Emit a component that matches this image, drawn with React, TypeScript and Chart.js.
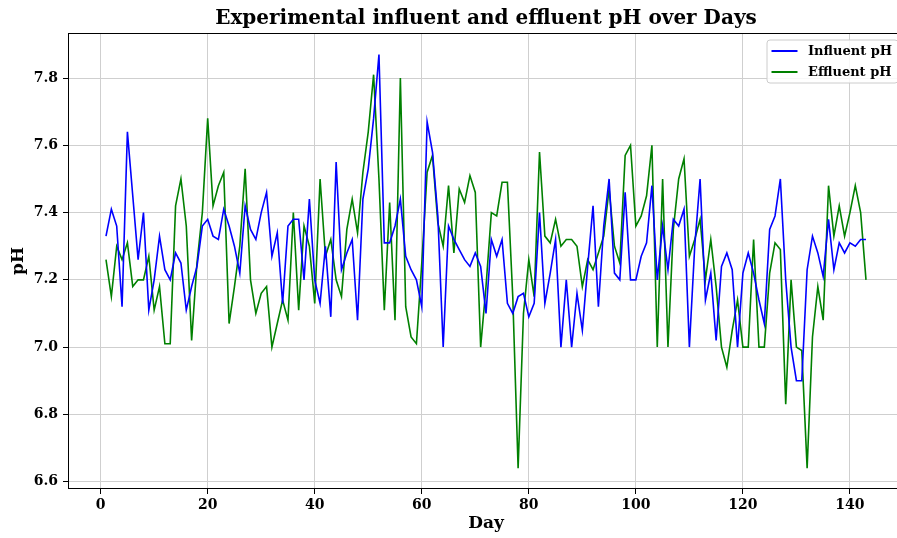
import React, { useEffect, useRef } from "react";
import { Chart, registerables } from "chart.js";

Chart.register(...registerables);

// Influent pH, days 1..143
const influentPH = [
  7.33, 7.41, 7.36, 7.12, 7.64, 7.45, 7.26, 7.4, 7.11, 7.2,
  7.33, 7.23, 7.2, 7.28, 7.25, 7.11, 7.18, 7.24, 7.36, 7.38,
  7.33, 7.32, 7.41, 7.36, 7.3, 7.22, 7.42, 7.35, 7.32, 7.4,
  7.46, 7.27, 7.34, 7.13, 7.36, 7.38, 7.38, 7.2, 7.44, 7.2,
  7.13, 7.3, 7.09, 7.55, 7.23, 7.28, 7.32, 7.08, 7.44, 7.53,
  7.68, 7.87, 7.31, 7.31, 7.36, 7.44, 7.27, 7.23, 7.2, 7.12,
  7.67, 7.58, 7.39, 7.0, 7.36, 7.32, 7.29, 7.26, 7.24, 7.28,
  7.24, 7.1, 7.32, 7.27, 7.32, 7.13, 7.1, 7.15, 7.16, 7.09,
  7.13, 7.4, 7.13, 7.22, 7.32, 7.0, 7.2, 7.0, 7.16, 7.05,
  7.24, 7.42, 7.12, 7.36, 7.5, 7.22, 7.2, 7.46, 7.2, 7.2,
  7.27, 7.31, 7.48, 7.2, 7.36, 7.23, 7.38, 7.36, 7.41, 7.0,
  7.3, 7.5, 7.14, 7.22, 7.02, 7.24, 7.28, 7.23, 7.0, 7.22,
  7.28, 7.22, 7.14, 7.07, 7.35, 7.39, 7.5, 7.2, 7.0, 6.9,
  6.9, 7.23, 7.33, 7.28, 7.21, 7.38, 7.23, 7.31, 7.28, 7.31,
  7.3, 7.32, 7.32,
];

// Effluent pH, days 1..143
const effluentPH = [
  7.26, 7.15, 7.3, 7.26, 7.31, 7.18, 7.2, 7.2, 7.27, 7.11,
  7.18, 7.01, 7.01, 7.42, 7.5, 7.36, 7.02, 7.25, 7.4, 7.68,
  7.42, 7.48, 7.52, 7.07, 7.18, 7.3, 7.53, 7.2, 7.1, 7.16,
  7.18, 7.0, 7.07, 7.14, 7.08, 7.4, 7.11, 7.36, 7.3, 7.13,
  7.5, 7.27, 7.32, 7.2, 7.15, 7.35, 7.44, 7.34, 7.52, 7.64,
  7.81, 7.5, 7.11, 7.43, 7.08, 7.8, 7.12, 7.03, 7.01, 7.25,
  7.52, 7.57, 7.37, 7.3, 7.48, 7.28, 7.47, 7.43, 7.51, 7.46,
  7.0, 7.18, 7.4, 7.39, 7.49, 7.49, 7.15, 6.64, 7.1, 7.26,
  7.15, 7.58, 7.33, 7.31, 7.38, 7.3, 7.32, 7.32, 7.3, 7.18,
  7.26, 7.23, 7.28, 7.33, 7.47, 7.3, 7.25, 7.57, 7.6, 7.36,
  7.39, 7.45, 7.6, 7.0, 7.5, 7.0, 7.35, 7.5, 7.56, 7.27,
  7.32, 7.38, 7.2, 7.32, 7.18, 7.0, 6.94, 7.05, 7.14, 7.0,
  7.0, 7.32, 7.0, 7.0, 7.22, 7.31, 7.29, 6.83, 7.2, 7.0,
  6.99, 6.64, 7.03, 7.18, 7.08, 7.48, 7.33, 7.42, 7.33, 7.4,
  7.48, 7.4, 7.2,
];

const days = influentPH.map((_, i) => i + 1);

const xTicks = [0, 20, 40, 60, 80, 100, 120, 140];
const yTicks = [6.6, 6.8, 7.0, 7.2, 7.4, 7.6, 7.8];

const seriesLabels = ["Influent pH", "Effluent pH"];
const seriesColors = ["#0000ff", "#008000"];

const titleText = "Experimental influent and effluent pH over Days";
const xTitle = "Day";
const yTitle = "pH";

const FONT = "'DejaVu Serif', 'Liberation Serif', serif";

const framePlugin = {
  id: "frame",
  afterDatasetsDraw(chart: any) {
    const { ctx, chartArea } = chart;
    const { left, top, right, bottom } = chartArea;
    ctx.save();
    ctx.strokeStyle = "#000000";
    ctx.lineWidth = 1;
    ctx.strokeRect(Math.round(left) + 0.5, Math.round(top) + 0.5, Math.round(right - left) - 1, Math.round(bottom - top) - 1);
    ctx.restore();
  },
};

const legendPlugin = {
  id: "boxLegend",
  afterDraw(chart: any) {
    const { ctx, chartArea } = chart;
    const fs = 13;
    const pad = fs * 0.5;
    const boxRight = chartArea.right - pad;
    const boxTop = chartArea.top + pad;
    const boxW = 131;
    const boxH = 43;
    const boxLeft = boxRight - boxW;
    ctx.save();
    ctx.fillStyle = "rgba(255,255,255,0.85)";
    ctx.strokeStyle = "#cccccc";
    ctx.lineWidth = 1;
    ctx.beginPath();
    if ((ctx as any).roundRect) {
      (ctx as any).roundRect(boxLeft + 0.5, boxTop + 0.5, boxW, boxH, 3);
    } else {
      ctx.rect(boxLeft + 0.5, boxTop + 0.5, boxW, boxH);
    }
    ctx.fill();
    ctx.stroke();
    ctx.font = `bold ${fs}px ${FONT}`;
    ctx.textBaseline = "middle";
    ctx.textAlign = "left";
    chart.data.datasets.forEach((ds: any, i: number) => {
      const y = boxTop + 11.5 + i * 21;
      const x0 = boxLeft + 5;
      ctx.strokeStyle = ds.borderColor;
      ctx.lineWidth = 2;
      ctx.beginPath();
      ctx.moveTo(x0, y);
      ctx.lineTo(x0 + 26, y);
      ctx.stroke();
      ctx.fillStyle = "#000000";
      ctx.fillText(ds.label, x0 + 36.5, y + 0.5);
    });
    ctx.restore();
  },
};

export default function App() {
  const canvasRef = useRef<HTMLCanvasElement | null>(null);

  useEffect(() => {
    const canvas = canvasRef.current;
    if (!canvas) return;
    const series = [influentPH, effluentPH];
    const chart = new Chart(canvas, {
      type: "line",
      data: {
        datasets: series.map((vals, si) => ({
          label: seriesLabels[si],
          data: vals.map((v, i) => ({ x: days[i], y: v })),
          borderColor: seriesColors[si],
          backgroundColor: seriesColors[si],
          borderWidth: 1.6,
          pointRadius: 0,
          pointHoverRadius: 0,
          tension: 0,
          fill: false,
        })),
      },
      options: {
        responsive: false,
        animation: false,
        devicePixelRatio: 1,
        layout: { padding: { left: 0, right: 1, top: 0, bottom: 0 } },
        plugins: {
          legend: { display: false },
          tooltip: { enabled: false },
          title: {
            display: true,
            text: titleText,
            fullSize: false,
            color: "#000000",
            font: { family: FONT, size: 20, weight: "bold", lineHeight: 1.2 },
            padding: { top: 7, bottom: 2 },
          },
        },
        scales: {
          x: {
            type: "linear",
            min: -6.1,
            max: 150.1,
            afterBuildTicks: (scale: any) => {
              scale.ticks = xTicks.map((v) => ({ value: v }));
            },
            afterFit: (scale: any) => {
              scale.height = 49;
            },
            grid: {
              color: "#cfcfcf",
              lineWidth: 1,
              drawTicks: true,
              tickLength: 5,
              tickColor: "#000000",
            },
            border: { display: false },
            ticks: {
              autoSkip: false,
              maxRotation: 0,
              padding: 3,
              color: "#000000",
              font: { family: FONT, size: 14, weight: "bold" },
              callback: (v: any) => String(v),
            },
            title: {
              display: true,
              text: xTitle,
              color: "#000000",
              font: { family: FONT, size: 17, weight: "bold", lineHeight: 1.2 },
              padding: { top: 0, bottom: 4 },
            },
          },
          y: {
            type: "linear",
            min: 6.578,
            max: 7.934,
            afterBuildTicks: (scale: any) => {
              scale.ticks = yTicks.map((v) => ({ value: v }));
            },
            afterFit: (scale: any) => {
              scale.width = 68;
            },
            grid: {
              color: "#cfcfcf",
              lineWidth: 1,
              drawTicks: true,
              tickLength: 5,
              tickColor: "#000000",
            },
            border: { display: false },
            ticks: {
              autoSkip: false,
              padding: 5,
              color: "#000000",
              font: { family: FONT, size: 14, weight: "bold" },
              callback: (v: any) => Number(v).toFixed(1),
            },
            title: {
              display: true,
              text: yTitle,
              color: "#000000",
              font: { family: FONT, size: 17, weight: "bold", lineHeight: 1.2 },
              padding: { top: 8, bottom: 0 },
            },
          },
        },
      },
      plugins: [framePlugin, legendPlugin],
    } as any);
    return () => {
      chart.destroy();
    };
  }, []);

  return (
    <div
      style={{
        position: "absolute",
        left: 0,
        top: 0,
        width: 897,
        height: 538,
        overflow: "hidden",
        background: "#ffffff",
      }}
    >
      <canvas
        ref={canvasRef}
        width={905}
        height={538}
        style={{ display: "block", width: 905, height: 538 }}
      />
    </div>
  );
}
